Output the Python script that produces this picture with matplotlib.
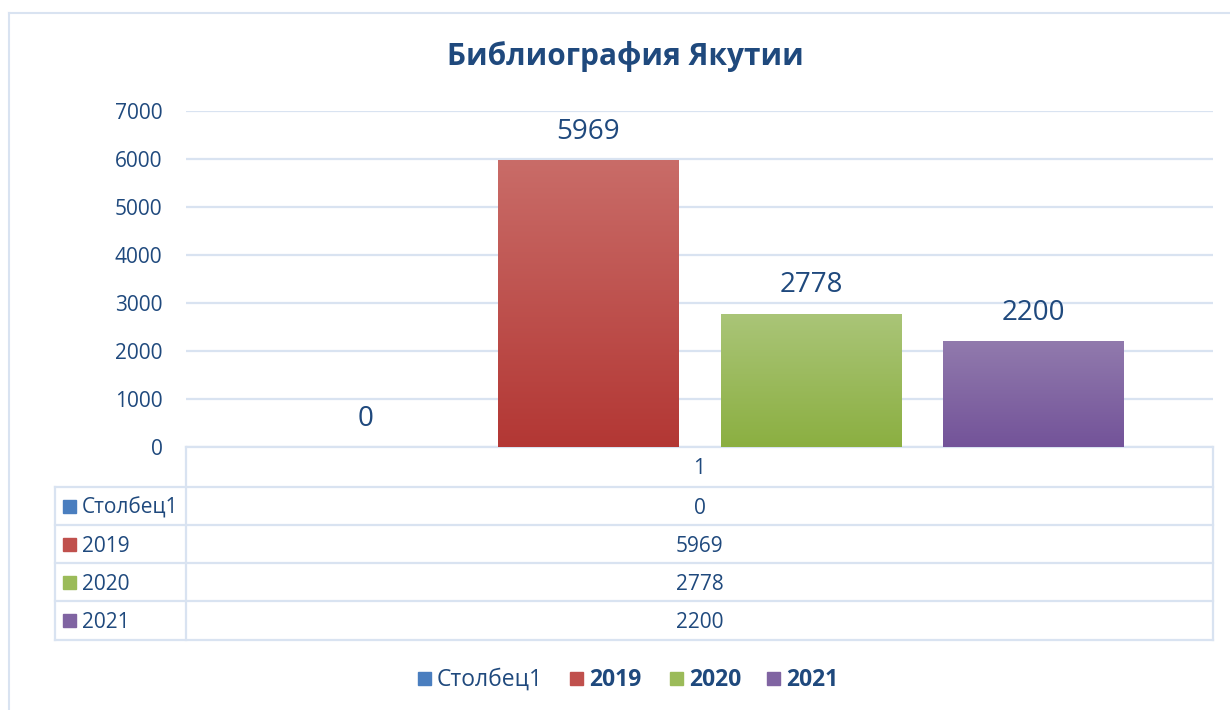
import numpy as np
import matplotlib.pyplot as plt
from matplotlib.patches import Rectangle
from matplotlib.colors import LinearSegmentedColormap

plt.rcParams['font.family'] = ['Open Sans', 'Noto Sans', 'DejaVu Sans']

# data
title = "Библиография Якутии"
category = "1"
series = ["Столбец1", "2019", "2020", "2021"]
values = [0, 5969, 2778, 2200]
yticks = [0, 1000, 2000, 3000, 4000, 5000, 6000, 7000]

# gradient colours (top, bottom) per series
grad = [("#6A96CE", "#3F72B4"), ("#C96C68", "#B33734"),
        ("#AAC578", "#8BAF41"), ("#917AAD", "#735399")]
solid = ["#4A7EBF", "#C0504D", "#9BBB59", "#8064A2"]
txt = "#1F497D"
gridc = "#D9E3F1"

W, H = 1230, 710
fig = plt.figure(figsize=(W / 100, H / 100), dpi=100)

# overlay in pixel coords for frame, table and legend
cv = fig.add_axes([0, 0, 1, 1], zorder=0)
cv.set_xlim(0, W)
cv.set_ylim(H, 0)
cv.axis('off')

# outer frame
cv.plot([9, W], [13, 13], color=gridc, lw=1.5)
cv.plot([9, 9], [13, H], color=gridc, lw=1.5)

# plot area
L, R, T, B = 186, 1213, 111, 447
ax = fig.add_axes([L / W, 1 - B / H, (R - L) / W, (B - T) / H], zorder=1)
ax.patch.set_alpha(0)
ax.set_xlim(0, 1)
ax.set_ylim(0, 7000)
ax.set_yticks(yticks)
ax.set_xticks([])
ax.tick_params(axis='y', length=0, pad=17, labelsize=15, labelcolor=txt)
for s in ax.spines.values():
    s.set_visible(False)
ax.grid(axis='y', color=gridc, lw=1.6)
ax.set_axisbelow(True)

step, bw = 0.217, 0.176
xs = [0.5 + (i - 1.5) * step for i in range(len(values))]
for i, (x, v) in enumerate(zip(xs, values)):
    bar = ax.bar(x, v, width=bw, color=solid[i], zorder=2)[0]
    if v > 0:
        cmap = LinearSegmentedColormap.from_list("g", [grad[i][1], grad[i][0]])
        img = ax.imshow(np.linspace(0, 1, 256).reshape(-1, 1), cmap=cmap,
                        extent=[x - bw / 2, x + bw / 2, 0, v], origin='lower',
                        aspect='auto', zorder=3)
        img.set_clip_path(bar)
    ax.annotate(str(v), (x, v), xytext=(0, 20.5), textcoords='offset points',
                ha='center', va='center', fontsize=20, color=txt, zorder=4)

fig.text(625 / W, 1 - 57 / H, title, ha='center', va='center',
         fontsize=21.5, fontweight='bold', color=txt)
ax.set_xlim(0, 1)

# data table
rows_y = [447, 487, 525, 563, 601, 640]
tl = 55
lw = 1.6
cv.plot([L, R], [rows_y[0], rows_y[0]], color=gridc, lw=lw)
for y in rows_y[1:]:
    cv.plot([tl, R], [y, y], color=gridc, lw=lw)
cv.plot([L, L], [rows_y[0], rows_y[-1]], color=gridc, lw=lw)
cv.plot([R, R], [rows_y[0], rows_y[-1]], color=gridc, lw=lw)
cv.plot([tl, tl], [rows_y[1], rows_y[-1]], color=gridc, lw=lw)
mid = (L + R) / 2
cv.text(mid, (rows_y[0] + rows_y[1]) / 2 + 2, category, ha='center', va='center',
        fontsize=15, color=txt)
for i, (name, v) in enumerate(zip(series, values)):
    yc = (rows_y[i + 1] + rows_y[i + 2]) / 2
    cv.add_patch(Rectangle((63, yc - 6.5), 13, 13, color=solid[i]))
    cv.text(82, yc + 2, name, ha='left', va='center', fontsize=15, color=txt)
    cv.text(mid, yc + 2, str(v), ha='center', va='center', fontsize=15, color=txt)

# legend
leg_x = [418, 570, 670, 767]
for i, name in enumerate(series):
    cv.add_patch(Rectangle((leg_x[i], 672), 13, 13, color=solid[i]))
    cv.text(leg_x[i] + 19, 680, name, ha='left', va='center', fontsize=16.5,
            color=txt, fontweight='normal' if i == 0 else 'bold')

fig.savefig("out.png", dpi=100)
